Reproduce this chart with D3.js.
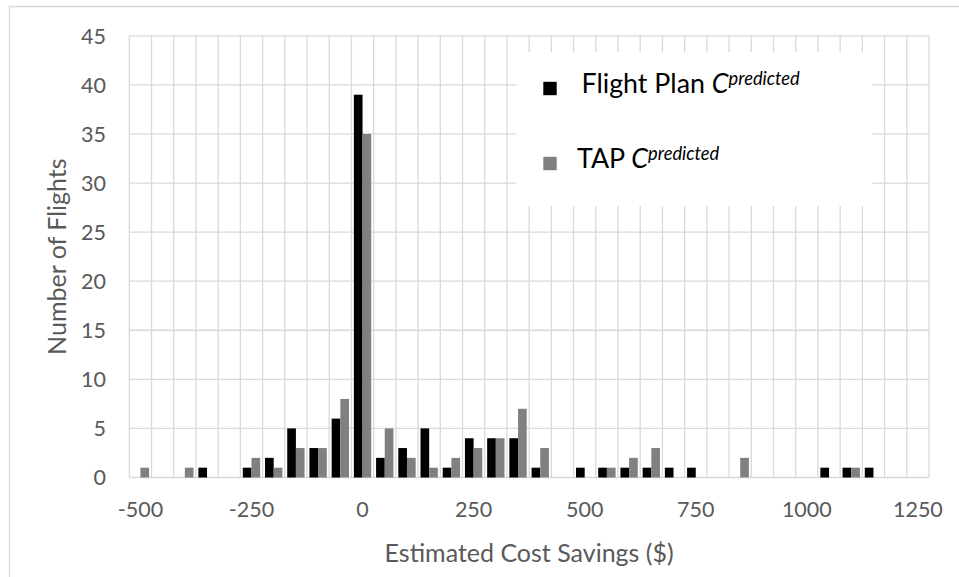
<!DOCTYPE html>
<html><head><meta charset="utf-8">
<script src="https://cdn.jsdelivr.net/npm/d3@7"></script>
<style>body{margin:0;background:#fff} svg{display:block}</style>
</head><body><svg id="c" width="959" height="577"></svg>
<script>
const categories = [-500,-450,-400,-350,-300,-250,-200,-150,-100,-50,0,50,100,150,200,250,300,350,400,450,500,550,600,650,700,750,800,850,900,950,1000,1050,1100,1150,1200,1250];
const flightPlan = [0,0,0,1,0,1,2,5,3,6,39,2,3,5,1,4,4,4,1,0,1,1,1,1,1,1,0,0,0,0,0,1,1,1,0,0];
const tap        = [1,0,1,0,0,2,1,3,3,8,35,5,2,1,2,3,4,7,3,0,0,1,2,3,0,0,0,2,0,0,0,0,1,0,0,0];
const yTicks = [0,5,10,15,20,25,30,35,40,45];
const xTickLabels = ["-500","-250","0","250","500","750","1000","1250"];
const seriesNames = ["Flight Plan","TAP"];
const seriesColors = ["#000000","#808080"];
const xTitle = "Estimated Cost Savings ($)";
const yTitle = "Number of Flights";

const svg = d3.select("#c");
const W = 959, H = 577;
const plot = {l:129.3, r:929, t:35.8, b:477.5};
const FONT = "Lato, 'Open Sans', sans-serif";
const gridC = "#d9d9d9";

// outer chart border
svg.append("path").attr("d", `M9.5,${H} V6.5 H${W}`).attr("fill","none").attr("stroke",gridC).attr("stroke-width",1.3);

const x0 = d3.scaleBand().domain(categories).range([plot.l, plot.r]).paddingInner(0).paddingOuter(0);
const x1 = d3.scaleBand().domain([0,1]).range([0, x0.bandwidth()]).paddingInner(0).paddingOuter(0.28);
const y = d3.scaleLinear().domain([0,45]).range([plot.b, plot.t]);

const g = svg.append("g");
// horizontal gridlines
g.selectAll("line.h").data(yTicks).join("line").attr("class","h")
  .attr("x1", plot.l).attr("x2", plot.r)
  .attr("y1", d=>y(d)).attr("y2", d=>y(d))
  .attr("stroke", gridC).attr("stroke-width",1.3);
// vertical gridlines at category boundaries
const bounds = categories.map(c=>x0(c)).concat([x0.range()[1]]);
g.selectAll("line.v").data(bounds).join("line").attr("class","v")
  .attr("x1", d=>d).attr("x2", d=>d)
  .attr("y1", plot.t).attr("y2", plot.b)
  .attr("stroke", gridC).attr("stroke-width",1.3);

// bars
const series = [flightPlan, tap];
series.forEach((vals, si) => {
  g.selectAll("rect.s"+si).data(categories.map((c,i)=>({c, v: vals[i]})).filter(d=>d.v>0))
    .join("rect").attr("class","s"+si)
    .attr("x", d=>x0(d.c)+x1(si))
    .attr("width", x1.bandwidth())
    .attr("y", d=>y(d.v))
    .attr("height", d=>y(0)-y(d.v))
    .attr("fill", seriesColors[si]);
});

// y tick labels
g.selectAll("text.yt").data(yTicks).join("text").attr("class","yt")
  .attr("x", 106).attr("y", d=>y(d)).attr("dy","0.36em")
  .attr("text-anchor","end").attr("font-family",FONT).attr("font-size",21.5)
  .attr("fill","#595959").text(d=>d);

// x tick labels
g.selectAll("text.xt").data(xTickLabels).join("text").attr("class","xt")
  .attr("x", d=>x0(+d)+x0.bandwidth()/2).attr("y", 517)
  .attr("text-anchor","middle").attr("font-family",FONT).attr("font-size",21.5)
  .attr("fill","#595959").text(d=>d);

// axis titles
svg.append("text").attr("x",(plot.l+plot.r)/2).attr("y",562)
  .attr("text-anchor","middle").attr("font-family",FONT).attr("font-size",25)
  .attr("fill","#595959").text(xTitle);
svg.append("text").attr("transform",`translate(66,${(plot.t+plot.b)/2}) rotate(-90)`)
  .attr("text-anchor","middle").attr("font-family",FONT).attr("font-size",25)
  .attr("fill","#595959").text(yTitle);

// legend
svg.append("rect").attr("x",516).attr("y",52).attr("width",356).attr("height",154).attr("fill","#fff");
const legY = [93.3, 168.3];
const legTX = [581.5, 577];
seriesNames.forEach((name, i) => {
  svg.append("rect").attr("x",543.3).attr("y",legY[i]-11.5).attr("width",13.4).attr("height",13.4).attr("fill",seriesColors[i]);
  const t = svg.append("text").attr("x",legTX[i]).attr("y",legY[i]).attr("font-family",FONT).attr("font-size",26.8).attr("fill","#000");
  t.append("tspan").text(name + " ");
  t.append("tspan").attr("font-style","italic").text("C");
  t.append("tspan").attr("font-style","italic").attr("font-size",18.3).attr("dy",-8.5).text("predicted");
});
</script></body></html>
